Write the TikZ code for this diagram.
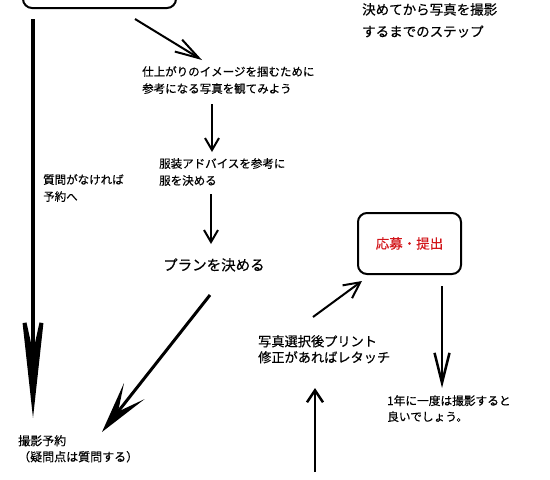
\documentclass[tikz,border=0pt]{standalone}
\usepackage{fontspec}
\newfontfamily\jp[FakeBold=0.4]{Noto Sans CJK JP}
\usetikzlibrary{arrows.meta}
\definecolor{applyred}{RGB}{210,20,25}

\begin{document}
\begin{tikzpicture}[x=1pt,y=-1pt]
\tikzstyle{every node}+=[inner sep=0pt]
\tikzstyle{note}=[anchor=north west, align=left, font=\jp\fontsize{11.5}{17}\selectfont]
\tikzstyle{panel}=[draw, line width=2pt, rounded corners=9pt]
\tikzstyle{flow}=[line width=2pt, -{Straight Barb[length=12pt,width=14pt]}]
\tikzstyle{heavy}=[line width=3pt, -{Stealth[length=52pt,width=26pt,inset=26pt]}]

\useasboundingbox (0,0) rectangle (550,480);
\clip (0,0) rectangle (550,480);

% boxes
\node [panel, minimum width=153pt, minimum height=44pt] (start) at (99.5,-14) {};
\node [panel, minimum width=103pt, minimum height=61pt, text=applyred,
  font=\jp\fontsize{13.5}{16}\selectfont] (apply) at (409.5,243.5) {応募・提出};

% texts
\node [note, font=\jp\fontsize{13.5}{22}\selectfont] (title) at (362,3) {決めてから写真を撮影\\するまでのステップ};
\node [note] (look) at (142,66) {仕上がりのイメージを掴むために\\参考になる写真を観てみよう};
\node [note] (dress) at (159,158) {服装アドバイスを参考に\\服を決める};
\node [note, font=\jp\fontsize{14.5}{17}\selectfont] (plan) at (163,258) {プランを決める};
\node [note] (ask) at (43,174) {質問がなければ\\予約へ};
\node [note, font=\jp\fontsize{12}{16}\selectfont] (book) at (18,435) {撮影予約\\（疑問点は質問する）};
\node [note, font=\jp\fontsize{13.2}{16}\selectfont] (print) at (258,335) {写真選択後プリント\\修正があればレタッチ};
\node [note, font=\jp\fontsize{11.7}{16}\selectfont] (yearly) at (387,395) {1年に一度は撮影すると\\良いでしょう。};

% connector ends
\coordinate (lookin) at (202,60);
\coordinate (bookin) at (33,418);
\coordinate (bookin2) at (102,432);
\coordinate (printout) at (313,317);
\coordinate (applyin) at (362,281);
\coordinate (printin) at (315,388);
\coordinate (shootout) at (315,472);
\coordinate (yearlyin) at (442,388);

% arrows
\draw [flow, -{Straight Barb[length=24pt,width=14pt]}] (135,19) -- (lookin);
\draw [flow] (look.south -| 212,0) ++(0,10) -- (212,152);
\draw [flow] (dress.south -| 211,0) ++(0,8) -- (211,244);
\draw [line width=4pt, -{Stealth[length=132pt,width=29pt,inset=66pt]}]
  ([yshift=-10pt]start.south -| bookin) -- (bookin);
\draw [heavy] (210,295) -- (bookin2);
\draw [line width=2.5pt, -{Straight Barb[length=12pt,width=16pt]}] (shootout) -- (printin);
\draw [flow, -{Straight Barb[length=16pt,width=16pt]}] (printout) -- (applyin);
\draw [line width=2.5pt, -{Straight Barb[length=30pt,width=15pt]}]
  ([yshift=-11pt]apply.south -| yearlyin) -- (yearlyin);
\end{tikzpicture}
\end{document}
